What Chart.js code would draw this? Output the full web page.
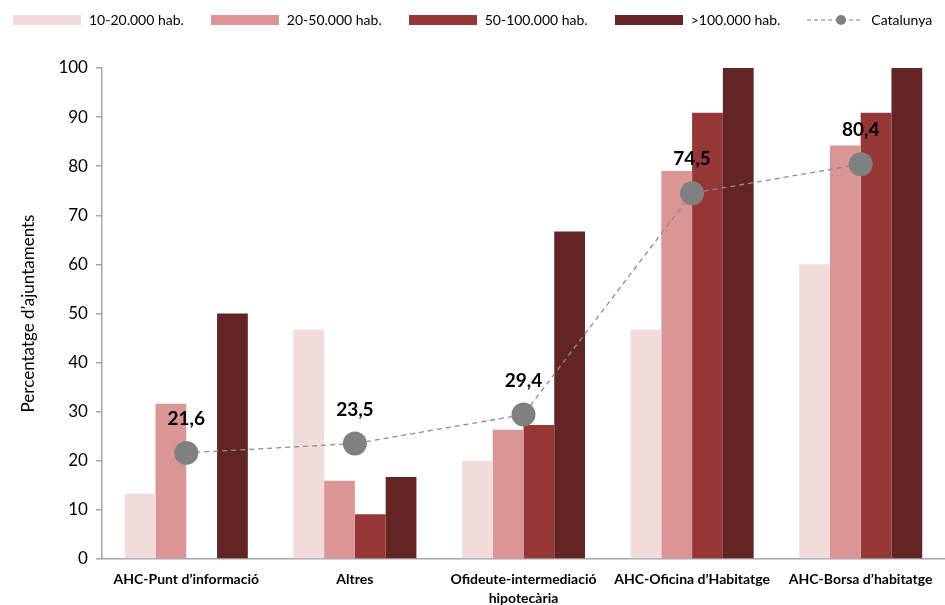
<!DOCTYPE html>
<html>
<head>
<meta charset="utf-8">
<script src="https://cdn.jsdelivr.net/npm/chart.js@4"></script>
<style>
  html, body { margin: 0; padding: 0; background: #fff; overflow: hidden; }
  #wrap { position: relative; width: 945px; height: 605px; }
  #chart-ajuntaments { display: block; }
  #llegenda {
    position: absolute; top: 11px; left: 13px;
    display: flex; align-items: center; gap: 27px;
    font-family: Lato, "Open Sans", sans-serif; font-size: 14px; color: #000;
    white-space: nowrap;
  }
  #llegenda .item { display: flex; align-items: center; gap: 8px; }
  #llegenda canvas { display: block; }
</style>
</head>
<body>
<div id="wrap">
  <canvas id="chart-ajuntaments"></canvas>
  <div id="llegenda"></div>
</div>
<script>
const categories = [
  'AHC-Punt d\u2019informació',
  'Altres',
  ['Ofideute-intermediació', 'hipotecària'],
  'AHC-Oficina d\u2019Habitatge',
  'AHC-Borsa d\u2019habitatge'
];
const hab10_20 = [13.3, 46.7, 20.0, 46.7, 60.0];
const hab20_50 = [31.6, 15.9, 26.3, 79.0, 84.2];
const hab50_100 = [0, 9.1, 27.3, 90.9, 90.9];
const hab100 = [50.0, 16.7, 66.7, 100, 100];
const catalunya = [21.6, 23.5, 29.4, 74.5, 80.4];
const yTicks = [0, 10, 20, 30, 40, 50, 60, 70, 80, 90, 100];

const FONT = 'Lato, "Open Sans", sans-serif';

// icones de la llegenda
function boxIcon(color) {
  const c = document.createElement('canvas');
  c.width = 68; c.height = 10;
  const g = c.getContext('2d');
  g.fillStyle = color;
  g.fillRect(0, 0, 68, 10);
  return c;
}
function lineIcon() {
  const c = document.createElement('canvas');
  c.width = 56; c.height = 12;
  const g = c.getContext('2d');
  g.strokeStyle = '#808080';
  g.lineWidth = 1.2;
  g.setLineDash([4, 3]);
  g.beginPath();
  g.moveTo(0, 6); g.lineTo(56, 6);
  g.stroke();
  g.fillStyle = '#808080';
  g.beginPath();
  g.arc(34, 6, 5, 0, Math.PI * 2);
  g.fill();
  return c;
}

const valorsCatalunya = {
  id: 'valorsCatalunya',
  afterDatasetsDraw(chart) {
    const ctx = chart.ctx;
    const meta = chart.getDatasetMeta(4);
    ctx.save();
    ctx.font = 'bold 19px ' + FONT;
    ctx.fillStyle = '#000';
    ctx.textAlign = 'center';
    ctx.textBaseline = 'middle';
    meta.data.forEach((pt, i) => {
      ctx.fillText(catalunya[i].toFixed(1).replace('.', ','), pt.x, pt.y - 34);
    });
    ctx.restore();
  }
};

// llegenda en html, construida a partir dels datasets
const htmlLegend = {
  id: 'htmlLegend',
  afterUpdate(chart) {
    const box = document.getElementById('llegenda');
    box.innerHTML = '';
    chart.data.datasets.forEach(ds => {
      const item = document.createElement('div');
      item.className = 'item';
      item.appendChild(ds.type === 'line' ? lineIcon() : boxIcon(ds.backgroundColor));
      const txt = document.createElement('span');
      txt.textContent = ds.label;
      item.appendChild(txt);
      box.appendChild(item);
    });
  }
};

const barCommon = { barPercentage: 1, categoryPercentage: 0.73, borderWidth: 0, order: 2 };

const config = {
  type: 'bar',
  data: {
    labels: categories,
    datasets: [
      { label: '10-20.000 hab.', data: hab10_20, backgroundColor: '#f2dcdb', ...barCommon },
      { label: '20-50.000 hab.', data: hab20_50, backgroundColor: '#da9694', ...barCommon },
      { label: '50-100.000 hab.', data: hab50_100, backgroundColor: '#953735', ...barCommon },
      { label: '>100.000 hab.', data: hab100, backgroundColor: '#632523', ...barCommon },
      {
        type: 'line',
        label: 'Catalunya',
        data: catalunya,
        order: 1,
        borderColor: '#8c8c8c',
        borderWidth: 1.3,
        borderDash: [5, 4],
        pointRadius: 12,
        pointHoverRadius: 12,
        pointBackgroundColor: '#808080',
        pointBorderWidth: 0
      }
    ]
  },
  options: {
    responsive: true,
    maintainAspectRatio: false,
    animation: false,
    layout: { autoPadding: false, padding: { left: 14, right: 0, top: 68, bottom: -14 } },
    plugins: {
      tooltip: { enabled: false },
      legend: { display: false }
    },
    scales: {
      x: {
        afterFit(axis) { axis.paddingLeft = 0; axis.paddingRight = 0; },
        grid: { display: false, drawTicks: false },
        border: { color: '#a6a6a6', width: 1.5 },
        ticks: {
          color: '#000',
          padding: 11,
          maxRotation: 0,
          autoSkip: false,
          font: { family: FONT, size: 14, weight: 'bold', lineHeight: 1.36 }
        }
      },
      y: {
        min: 0,
        max: 100,
        afterBuildTicks(axis) { axis.ticks = yTicks.map(v => ({ value: v })); },
        grid: { drawOnChartArea: false, drawTicks: true, tickLength: 6, color: '#a6a6a6', lineWidth: 1.5 },
        border: { color: '#a6a6a6', width: 1.5 },
        ticks: {
          color: '#000',
          padding: 8,
          font: { family: FONT, size: 17 }
        },
        title: {
          display: true,
          text: 'Percentatge d\u2019ajuntaments',
          color: '#000',
          padding: { bottom: 12 },
          font: { family: FONT, size: 17 }
        }
      }
    }
  },
  plugins: [valorsCatalunya, htmlLegend]
};

const chartAjuntaments = new Chart(document.getElementById('chart-ajuntaments'), config);
</script>
</body>
</html>
